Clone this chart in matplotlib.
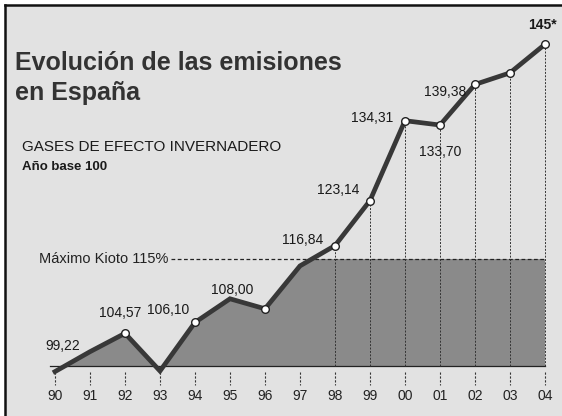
import numpy as np
import matplotlib
matplotlib.use('Agg')
import matplotlib.pyplot as plt
from matplotlib.patches import Rectangle
from matplotlib.lines import Line2D

# datos: indice de emisiones, año base = 100
years = ['90', '91', '92', '93', '94', '95', '96', '97', '98', '99', '00', '01', '02', '03', '04']
values = [99.22, 102.0, 104.57, 99.3, 106.10, 109.4, 108.00, 114.0, 116.84, 123.14,
          134.31, 133.70, 139.38, 141.0, 145.0]
labels = {0: '99,22', 2: '104,57', 4: '106,10', 6: '108,00', 8: '116,84', 9: '123,14',
          10: '134,31', 11: '133,70', 12: '139,38', 14: '145*'}
marked = [2, 4, 6, 8, 9, 10, 11, 12, 13, 14]
base = 100
kyoto = 115

# desplazamiento de las etiquetas en pixeles
label_offsets = {0: (8, 26), 2: (-5, 20), 4: (-27, 12), 6: (-33, 19), 8: (-32, 6),
                 9: (-32, 11), 10: (-33, 3), 11: (0, -27), 12: (-30, -8), 14: (-3, 19)}

W, H = 562, 416
fig = plt.figure(figsize=(W / 100, H / 100), dpi=100)
fig.patch.set_facecolor('white')
ax = fig.add_axes([0, 0, 1, 1])
ax.set_facecolor('#e2e2e2')
ax.set_axis_off()

x = np.arange(len(years))
vals = np.array(values)

px_per_year = 35.0
px_per_unit = 7.15
ax.set_xlim(-55 / px_per_year, (W - 55) / px_per_year)
ax.set_ylim(base - (H - 366) / px_per_unit, base + 366 / px_per_unit)

# fondo gris dentro del marco
ax.add_patch(Rectangle((0, 0), 1, 1, transform=fig.transFigure, facecolor='white', zorder=0))
ax.add_patch(Rectangle((5 / W, 0), 1, 1 - 5 / H, transform=fig.transFigure,
                       facecolor='#e2e2e2', zorder=0.1))
fig.add_artist(Line2D([5 / W, 5 / W], [0, 1 - 5 / H], color='#111111', lw=1.8))
fig.add_artist(Line2D([5 / W, 1], [1 - 5 / H, 1 - 5 / H], color='#111111', lw=1.8))

# area sombreada entre 100 y min(linea, 115)
area = ax.fill_between(x, base, vals, where=vals > base, interpolate=True,
                       color='#8a8a8a', lw=0, zorder=1)
clip = Rectangle((x[0], base), x[-1] - x[0], kyoto - base, transform=ax.transData)
area.set_clip_path(clip)

# linea base
ax.plot([-0.15, x[-1]], [base, base], color='#222222', lw=0.9, zorder=2)

# limite Kioto
ax.plot([3.3, x[-1]], [kyoto, kyoto], color='#222222', lw=0.9, ls=(0, (3, 2)), zorder=2)
ax.text(3.25, kyoto, 'Máximo Kioto 115%', ha='right', va='center', fontsize=10.5,
        family='Liberation Sans', color='#222222')

# lineas verticales punteadas y marcas del eje
for i, v in zip(x, vals):
    ax.plot([i, i], [base - 0.8, base - 2.6], color='#333333', lw=0.8, ls=(0, (2, 1.5)), zorder=2)
    if v > kyoto:
        ax.plot([i, i], [base, v], color='#333333', lw=0.7, ls=(0, (2, 1.5)), zorder=2)
    ax.text(i, base - 4.2, years[i], ha='center', va='center', fontsize=10,
            family='Liberation Sans', color='#222222')

# serie
ax.plot(x, vals, color='#383838', lw=3.4, solid_joinstyle='miter', zorder=3)
ax.plot(x[marked], vals[marked], ls='none', marker='o', ms=5.5, mfc='white',
        mec='#222222', mew=1.0, zorder=4)

for i, txt in labels.items():
    dx, dy = label_offsets[i]
    ax.annotate(txt, (x[i], vals[i]), xytext=(dx, dy), textcoords='offset pixels',
                ha='center', va='center', fontsize=10, family='Liberation Sans',
                color='#1a1a1a', fontweight='bold' if i == 14 else 'normal', zorder=5)

# titulos
fig.text(15 / W, 1 - 63 / H, 'Evolución de las emisiones', fontsize=18, fontweight='bold',
         family='Liberation Sans', color='#333333', va='center', ha='left')
fig.text(15 / W, 1 - 93 / H, 'en España', fontsize=18, fontweight='bold',
         family='Liberation Sans', color='#333333', va='center', ha='left')
fig.text(22 / W, 1 - 147 / H, 'GASES DE EFECTO INVERNADERO', fontsize=11,
         family='Liberation Sans', color='#1a1a1a', va='center', ha='left')
fig.text(22 / W, 1 - 167 / H, 'Año base 100', fontsize=9.5, fontweight='bold',
         family='Liberation Sans', color='#1a1a1a', va='center', ha='left')

fig.savefig('out.png', dpi=100)
